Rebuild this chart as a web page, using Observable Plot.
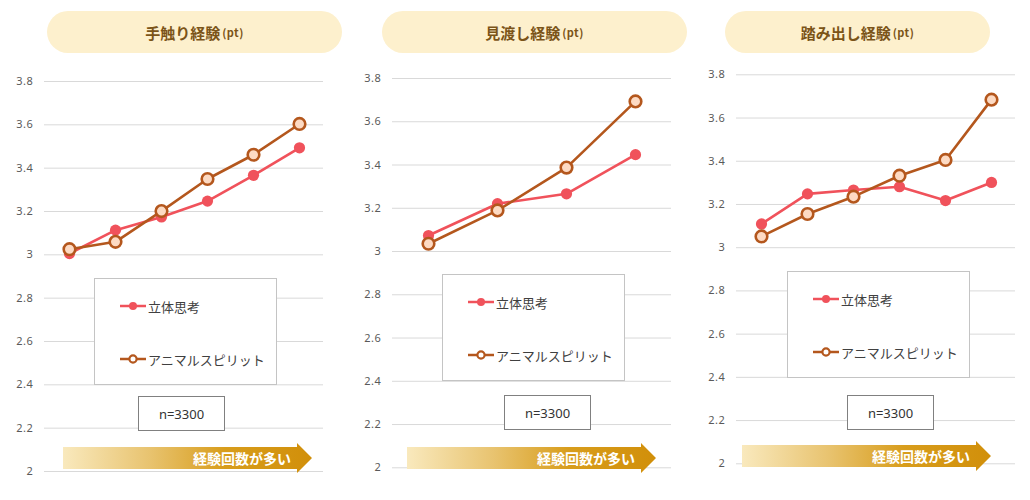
<!DOCTYPE html>
<html>
<head>
<meta charset="utf-8">
<script src="https://cdn.jsdelivr.net/npm/d3@7"></script>
<script src="https://cdn.jsdelivr.net/npm/@observablehq/plot@0.6"></script>
<style>
  body { margin: 0; background: #fff; font-family: "Noto Sans CJK JP", "Noto Sans", sans-serif; }
  #board { position: relative; width: 1030px; height: 500px; overflow: hidden; background: #fff; }
  .chart { position: absolute; top: 0; }
  .chart text { letter-spacing: 0.6px; }
  .pill { position: absolute; height: 42px; border-radius: 21px; background: #fdf0cd;
          display: flex; align-items: center; justify-content: center;
          color: #7b5418; font-weight: 700; font-size: 15px; white-space: nowrap; }
  .pill small { font-size: 11px; font-weight: 700; margin-left: 2px; letter-spacing: 0.5px; }
  .legend { position: absolute; width: 183px; height: 107px; box-sizing: border-box;
            border: 1px solid #c4c4c4; background: #fff; }
  .entry { position: absolute; left: 25px; height: 16px; display: flex; align-items: center;
           font-size: 13px; color: #404040; white-space: nowrap; }
  .entry svg { margin-right: 2px; }
  .nbox { position: absolute; width: 87px; height: 35px; box-sizing: border-box;
          border: 1px solid #808080; background: #fff; display: flex; align-items: center;
          justify-content: center; font-family: "Noto Sans", sans-serif; font-size: 13px; color: #333; }
  .arrow { position: absolute; width: 249px; height: 30px;
           clip-path: polygon(0 4px, 234px 4px, 234px 0, 249px 15px, 234px 30px, 234px 26px, 0 26px);
           background: linear-gradient(to right, #f9e9bd 0%, #e8c36f 35%, #d89d1c 65%, #d18f0a 100%); }
  .arrow span { position: absolute; right: 21px; top: 5px; line-height: 20px; color: #fff;
                font-weight: 700; font-size: 14px; white-space: nowrap; }
</style>
</head>
<body>
<div id="board"></div>
<script>
// Series names and panel titles
const seriesNames = ["立体思考", "アニマルスピリット"];
const panelTitles = ["手触り経験", "見渡し経験", "踏み出し経験"];
const titleUnit = "(pt)";
const sampleLabel = "n=3300";
const arrowLabel = "経験回数が多い";
const yTicks = [2, 2.2, 2.4, 2.6, 2.8, 3, 3.2, 3.4, 3.6, 3.8];

// 手触り経験: six experience-frequency steps
const touchSolid  = [3.006, 3.114, 3.175, 3.248, 3.367, 3.494];
const touchAnimal = [3.026, 3.060, 3.202, 3.350, 3.462, 3.604];
// 見渡し経験: four steps
const viewSolid   = [3.074, 3.221, 3.267, 3.448];
const viewAnimal  = [3.036, 3.190, 3.388, 3.694];
// 踏み出し経験: six steps
const stepSolid   = [3.110, 3.249, 3.267, 3.282, 3.218, 3.302];
const stepAnimal  = [3.052, 3.156, 3.236, 3.333, 3.406, 3.685];

const RED = "#f0525b";
const ORANGE = "#b4571d";
const ORANGE_FILL = "#fddac3";

// Layout of the three panels (page coordinates)
const panels = [
  { title: panelTitles[0], solid: touchSolid, animal: touchAnimal,
    plotLeft: 44,  yTop: 81,   yBottom: 471,
    pill: [47, 11, 295], legend: [94, 278], nbox: [138, 396], arrow: [63, 443] },
  { title: panelTitles[1], solid: viewSolid, animal: viewAnimal,
    plotLeft: 392, yTop: 78,   yBottom: 467.3,
    pill: [382, 11, 305], legend: [442, 274], nbox: [504, 395], arrow: [407, 443] },
  { title: panelTitles[2], solid: stepSolid, animal: stepAnimal,
    plotLeft: 736, yTop: 74.3, yBottom: 463.3,
    pill: [725, 11, 265], legend: [787, 271], nbox: [847, 395], arrow: [742, 441] }
];

const board = document.getElementById("board");
const H = 500, ML = 44, PW = 279, MR = 10;

function legendIcon(hollow) {
  const c = hollow ? ORANGE : RED;
  const circle = hollow
    ? `<circle cx="13" cy="6" r="3.6" fill="#fff" stroke="${c}" stroke-width="2.2"/>`
    : `<circle cx="13" cy="6" r="4" fill="${c}"/>`;
  return `<svg width="26" height="12"><line x1="0" x2="26" y1="6" y2="6" stroke="${c}" stroke-width="2.5"/>${circle}</svg>`;
}

for (const p of panels) {
  const idx = d3.range(p.solid.length);
  const rowsSolid = idx.map(i => ({ i, v: p.solid[i] }));
  const rowsAnimal = idx.map(i => ({ i, v: p.animal[i] }));

  const chart = Plot.plot({
    width: ML + PW + MR,
    height: H,
    marginLeft: ML,
    marginRight: MR,
    marginTop: p.yTop,
    marginBottom: H - p.yBottom,
    style: { background: "transparent", fontFamily: "'Noto Sans', sans-serif", fontSize: "11px", color: "#5a5a5a" },
    x: { type: "point", domain: idx, padding: 0.5, axis: null },
    y: { domain: [2, 3.8] },
    marks: [
      Plot.gridY(yTicks, { stroke: "#d9d9d9", strokeOpacity: 1, strokeWidth: 1 }),
      Plot.axisY(yTicks, { tickSize: 0, tickPadding: 11, tickFormat: d => String(d), label: null }),
      Plot.line(rowsSolid, { x: "i", y: "v", stroke: RED, strokeWidth: 2.6 }),
      Plot.dot(rowsSolid, { x: "i", y: "v", r: 5.6, fill: RED, stroke: "none" }),
      Plot.line(rowsAnimal, { x: "i", y: "v", stroke: ORANGE, strokeWidth: 2.6 }),
      Plot.dot(rowsAnimal, { x: "i", y: "v", r: 5.8, fill: ORANGE_FILL, stroke: ORANGE, strokeWidth: 2.6 })
    ]
  });
  chart.classList.add("chart");
  chart.style.left = (p.plotLeft - ML) + "px";
  board.appendChild(chart);

  // title pill
  const pill = document.createElement("div");
  pill.className = "pill";
  pill.style.left = p.pill[0] + "px";
  pill.style.top = p.pill[1] + "px";
  pill.style.width = p.pill[2] + "px";
  pill.innerHTML = `${p.title}<small>${titleUnit}</small>`;
  board.appendChild(pill);

  // legend box
  const lg = document.createElement("div");
  lg.className = "legend";
  lg.style.left = p.legend[0] + "px";
  lg.style.top = p.legend[1] + "px";
  lg.innerHTML =
    `<div class="entry" style="top:19px">${legendIcon(false)}${seriesNames[0]}</div>` +
    `<div class="entry" style="top:72px">${legendIcon(true)}${seriesNames[1]}</div>`;
  board.appendChild(lg);

  // sample size box
  const nb = document.createElement("div");
  nb.className = "nbox";
  nb.style.left = p.nbox[0] + "px";
  nb.style.top = p.nbox[1] + "px";
  nb.textContent = sampleLabel;
  board.appendChild(nb);

  // direction arrow
  const ar = document.createElement("div");
  ar.className = "arrow";
  ar.style.left = p.arrow[0] + "px";
  ar.style.top = p.arrow[1] + "px";
  ar.innerHTML = `<span>${arrowLabel}</span>`;
  board.appendChild(ar);
}
</script>
</body>
</html>
